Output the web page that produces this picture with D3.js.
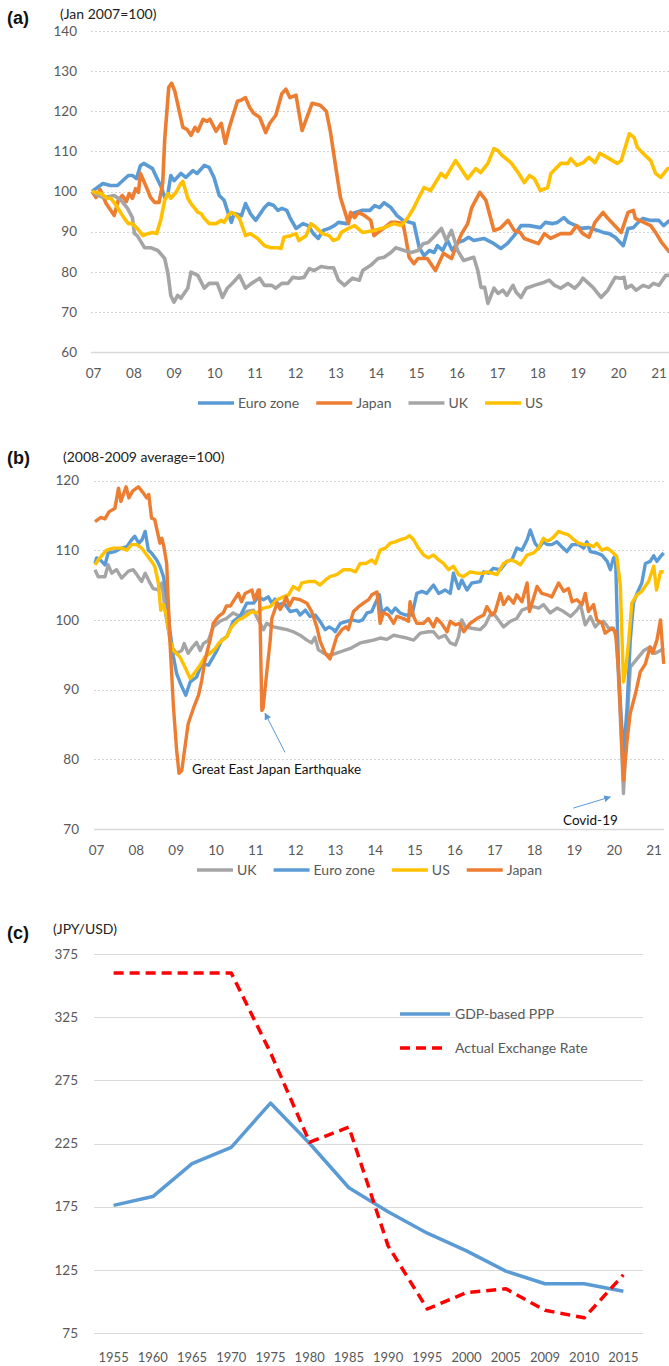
<!DOCTYPE html>
<html>
<head>
<meta charset="utf-8">
<script src="https://cdn.jsdelivr.net/npm/d3@7/dist/d3.min.js"></script>
<style>
body{margin:0;background:#fff;}
svg{display:block;font-family:Lato,"Open Sans",sans-serif;}
</style>
</head>
<body>
<svg width="669" height="1366"></svg>
<script>
// ---------- data ----------
var yearLabels = ["07","08","09","10","11","12","13","14","15","16","17","18","19","20","21"];

// panel (a) : [decimal year, index Jan 2007 = 100]
var euroA = [[2007.0,100],[2007.27,102],[2007.45,101.5],[2007.63,101.5],[2007.9,104],[2008.0,104],[2008.1,103.2],[2008.2,106.5],[2008.28,107],[2008.5,105.7],[2008.6,103.5],[2008.72,101],[2008.8,98.5],[2008.88,99.5],[2008.95,104],[2009.03,102.7],[2009.2,104.5],[2009.32,103.5],[2009.5,105.2],[2009.6,104.5],[2009.78,106.5],[2009.9,106],[2010.02,103.5],[2010.15,99],[2010.27,97.8],[2010.35,95.3],[2010.45,92.3],[2010.52,94.5],[2010.7,94],[2010.8,97],[2010.92,94.5],[2011.05,92.8],[2011.27,96],[2011.37,97],[2011.5,96.5],[2011.6,95.3],[2011.7,95.8],[2011.82,95.3],[2011.9,93.5],[2012.05,90.8],[2012.22,92],[2012.35,91.5],[2012.48,89.5],[2012.6,88.3],[2012.72,90.3],[2012.87,90.8],[2013.0,91.5],[2013.1,92.3],[2013.3,92],[2013.45,94.5],[2013.68,95.3],[2013.88,95.3],[2014.0,96.5],[2014.12,96],[2014.23,97.2],[2014.4,96],[2014.55,94],[2014.7,92.8],[2014.97,92],[2015.1,86],[2015.22,84],[2015.35,85.3],[2015.47,84.8],[2015.55,86.5],[2015.68,85.3],[2015.8,87.8],[2015.92,85.3],[2016.05,87.3],[2016.2,87.8],[2016.32,88.6],[2016.45,87.8],[2016.7,88.3],[2016.95,87],[2017.12,85.8],[2017.28,87],[2017.45,89],[2017.62,91.5],[2017.82,91.5],[2018.1,91],[2018.22,92.3],[2018.4,92],[2018.52,92.3],[2018.68,93.5],[2018.8,92.3],[2018.98,91.5],[2019.1,90.8],[2019.3,91],[2019.52,90.3],[2019.65,89.8],[2019.8,89.5],[2019.95,88.6],[2020.15,86.5],[2020.27,90.8],[2020.4,91],[2020.52,92.3],[2020.64,93.3],[2020.83,92.8],[2021.03,92.8],[2021.15,91.5],[2021.3,92.8]];
var japanA = [[2007.0,100],[2007.1,98.5],[2007.2,100.5],[2007.35,97],[2007.55,94],[2007.65,97.8],[2007.75,99],[2007.85,97.5],[2007.92,99.5],[2008.0,98.3],[2008.08,100.7],[2008.15,99.8],[2008.2,104.5],[2008.35,101],[2008.45,98.5],[2008.55,97.3],[2008.66,97.3],[2008.75,102],[2008.8,113],[2008.9,126],[2008.97,127],[2009.05,125],[2009.25,116],[2009.35,115.5],[2009.45,114],[2009.55,116],[2009.62,115],[2009.75,118],[2009.85,117.5],[2009.92,118],[2010.07,115],[2010.2,117],[2010.3,112],[2010.4,116],[2010.6,122.5],[2010.7,122.8],[2010.8,123.4],[2010.9,121],[2011.0,119.5],[2011.15,118.5],[2011.3,114.7],[2011.4,117],[2011.55,119],[2011.7,124.4],[2011.8,125.5],[2011.9,123.4],[2012.05,124],[2012.2,115.2],[2012.45,122],[2012.65,121.5],[2012.8,120],[2012.9,115],[2013.05,105],[2013.15,98.5],[2013.25,95.3],[2013.35,92],[2013.4,94.8],[2013.5,93.5],[2013.6,94.8],[2013.75,94],[2013.9,92.8],[2013.98,89],[2014.15,90.3],[2014.4,92.3],[2014.55,92.3],[2014.7,92],[2014.77,88.3],[2014.85,83.6],[2014.97,82],[2015.07,83.3],[2015.3,83.3],[2015.5,80.3],[2015.7,84.6],[2015.9,83.3],[2016.0,86],[2016.15,89.5],[2016.3,92],[2016.4,96],[2016.6,99.8],[2016.75,97.8],[2016.95,90.3],[2017.1,90.8],[2017.3,92.8],[2017.45,90.3],[2017.6,89.8],[2017.7,88.3],[2018.05,87],[2018.2,89.5],[2018.35,88.3],[2018.6,89.5],[2018.85,89.5],[2019.0,91.5],[2019.15,89.5],[2019.3,88.6],[2019.45,92.3],[2019.65,94.8],[2019.75,93.5],[2020.1,89.8],[2020.27,94.8],[2020.4,95.3],[2020.45,93.3],[2020.83,91.5],[2020.95,89.8],[2021.1,87.3],[2021.3,84.8]];
var ukA = [[2007.0,100],[2007.15,99],[2007.3,98.5],[2007.55,99],[2007.72,97.8],[2007.88,95.8],[2008.0,93.5],[2008.05,89.5],[2008.12,89],[2008.3,86],[2008.45,86],[2008.63,85.3],[2008.8,83.3],[2008.88,79.6],[2008.95,74.1],[2009.03,72.4],[2009.12,74.1],[2009.2,73.4],[2009.37,75.9],[2009.45,79.9],[2009.62,79.1],[2009.78,75.9],[2009.9,77.1],[2010.1,77.1],[2010.23,73.6],[2010.35,75.9],[2010.5,77.4],[2010.65,79.1],[2010.8,75.9],[2010.95,77.1],[2011.15,78.4],[2011.27,76.6],[2011.45,76.6],[2011.55,75.9],[2011.7,77.1],[2011.85,77.1],[2011.97,78.6],[2012.12,78.4],[2012.25,78.6],[2012.38,80.8],[2012.5,80.3],[2012.67,81.3],[2012.85,81],[2012.98,81],[2013.1,77.9],[2013.25,76.6],[2013.45,78.4],[2013.62,77.9],[2013.7,80.3],[2013.9,81.6],[2014.08,83.3],[2014.23,83.6],[2014.4,84.8],[2014.52,86],[2014.73,85.3],[2014.9,84.8],[2015.07,85.3],[2015.2,87],[2015.32,87.3],[2015.45,88.6],[2015.65,90.8],[2015.77,87.8],[2015.9,90.3],[2016.05,85.3],[2016.2,82.8],[2016.45,83.6],[2016.55,80.3],[2016.63,76.1],[2016.72,76.1],[2016.8,72.1],[2016.95,75.9],[2017.05,74.6],[2017.17,75.4],[2017.27,74.1],[2017.42,76.6],[2017.5,74.9],[2017.62,73.6],[2017.75,75.9],[2017.95,76.6],[2018.2,77.4],[2018.32,77.9],[2018.45,76.6],[2018.6,75.9],[2018.78,77.1],[2018.95,75.9],[2019.07,77.1],[2019.15,78.4],[2019.4,76.1],[2019.6,73.6],[2019.77,75.4],[2019.95,78.6],[2020.08,78.4],[2020.17,78.6],[2020.22,75.9],[2020.35,76.6],[2020.47,75.4],[2020.64,76.6],[2020.78,76.1],[2020.9,77.1],[2021.03,76.6],[2021.2,79.1],[2021.3,79.1]];
var usA = [[2007.0,100],[2007.22,99.5],[2007.38,98.3],[2007.47,98.3],[2007.6,96.5],[2007.8,93.3],[2007.9,92],[2008.0,92],[2008.12,90.8],[2008.26,89],[2008.38,89.5],[2008.5,89.8],[2008.6,89.5],[2008.7,92.8],[2008.8,97.8],[2008.88,99.5],[2008.95,98.3],[2009.08,99.8],[2009.2,102],[2009.25,102.5],[2009.37,98.3],[2009.45,97],[2009.53,96],[2009.62,94.8],[2009.7,94.5],[2009.78,93.3],[2009.9,92],[2010.07,92],[2010.2,92.8],[2010.27,92.3],[2010.37,94],[2010.45,94.8],[2010.52,94.5],[2010.65,93.3],[2010.8,89],[2010.92,89.5],[2011.1,88.3],[2011.27,86.5],[2011.43,86],[2011.6,86],[2011.68,85.8],[2011.75,88.6],[2011.92,89],[2012.05,89.5],[2012.12,87.8],[2012.3,89],[2012.42,92],[2012.55,91],[2012.7,89.5],[2012.87,89],[2012.97,87.8],[2013.1,88.3],[2013.17,89.8],[2013.35,90.8],[2013.5,91.5],[2013.7,89.8],[2013.98,90.3],[2014.23,91],[2014.47,92],[2014.65,91.5],[2014.82,93.5],[2014.97,96],[2015.08,98.3],[2015.22,101],[2015.38,100.2],[2015.64,104.5],[2015.75,103.5],[2016.0,107.7],[2016.3,103.2],[2016.5,105.7],[2016.62,104.7],[2016.8,107],[2016.95,110.7],[2017.05,110.2],[2017.15,109],[2017.37,107.2],[2017.55,104.7],[2017.7,102.2],[2017.83,104],[2017.95,103.2],[2018.1,100.2],[2018.28,101],[2018.36,104.5],[2018.6,107],[2018.78,107],[2018.85,108.2],[2019.0,106.5],[2019.16,107.2],[2019.3,108.5],[2019.45,107.2],[2019.57,109.5],[2019.75,108.5],[2020.0,107],[2020.1,107.7],[2020.3,114.4],[2020.42,113.4],[2020.5,111],[2020.64,109.5],[2020.83,107.7],[2020.95,104.5],[2021.08,103.5],[2021.25,105.7],[2021.3,105.7]];

// panel (b) : [decimal year, index 2008-2009 average = 100]
var ukB = [[2007.0,107.2],[2007.08,106.2],[2007.25,106.2],[2007.33,107.9],[2007.42,106.7],[2007.54,107.2],[2007.67,106],[2007.84,107],[2007.96,107.2],[2008.05,106.5],[2008.17,105.5],[2008.26,106.7],[2008.38,105.3],[2008.46,104.5],[2008.59,104.3],[2008.68,105.3],[2008.76,101.4],[2008.84,98.6],[2008.93,96.1],[2009.05,95.2],[2009.18,95.6],[2009.24,96.6],[2009.34,95.2],[2009.45,96.1],[2009.55,96.8],[2009.64,95.6],[2009.72,96.6],[2009.85,97.1],[2009.97,99],[2010.14,99.8],[2010.3,100.2],[2010.47,101],[2010.64,100.5],[2010.81,101.2],[2010.98,101.4],[2011.1,100],[2011.23,98.6],[2011.31,99.5],[2011.48,99],[2011.65,98.8],[2011.82,98.6],[2011.98,98.3],[2012.15,97.8],[2012.32,97.1],[2012.44,96.7],[2012.52,97.5],[2012.61,95.7],[2012.75,95.2],[2012.9,94.9],[2013.05,95.2],[2013.2,95.5],[2013.41,95.9],[2013.66,96.7],[2013.83,96.9],[2013.99,97.1],[2014.16,97.4],[2014.33,97.2],[2014.5,97.8],[2014.66,97.6],[2014.83,97.4],[2015.0,97.1],[2015.17,98.1],[2015.37,98.3],[2015.5,98.3],[2015.63,97.4],[2015.79,97.8],[2015.92,96.7],[2016.05,96.4],[2016.13,97.6],[2016.21,100],[2016.3,99],[2016.46,98.8],[2016.67,98.6],[2016.8,99.3],[2016.92,100.7],[2017.0,101],[2017.13,100],[2017.26,99],[2017.43,99.8],[2017.59,100.2],[2017.72,101.4],[2017.85,101.7],[2018.01,101.9],[2018.14,101.7],[2018.26,102.2],[2018.43,101],[2018.6,101.7],[2018.77,101.2],[2018.94,100.5],[2019.1,101.4],[2019.19,102.2],[2019.31,99.3],[2019.44,100.5],[2019.56,99],[2019.66,99.6],[2019.77,99.8],[2019.9,98.8],[2020.02,98.8],[2020.1,97.1],[2020.18,87.5],[2020.27,75.1],[2020.36,85.1],[2020.44,93.2],[2020.61,94.4],[2020.78,95.6],[2020.94,96.1],[2021.07,95.2],[2021.2,95.6],[2021.28,96]];
var euroB = [[2007.0,108.1],[2007.04,108.9],[2007.15,108.5],[2007.25,107.9],[2007.33,109.6],[2007.5,109.8],[2007.67,110.3],[2007.8,110.5],[2007.92,111.5],[2008.0,112],[2008.1,111],[2008.18,111.5],[2008.26,112.7],[2008.34,110],[2008.42,109.6],[2008.55,108.6],[2008.63,107.7],[2008.72,106.2],[2008.8,103.3],[2008.88,98.6],[2008.97,94.7],[2009.05,92.3],[2009.18,90.4],[2009.28,89.2],[2009.39,91.1],[2009.55,91.8],[2009.68,93.7],[2009.85,93.5],[2009.97,94.7],[2010.06,95.6],[2010.18,97.1],[2010.31,97.6],[2010.47,99.8],[2010.64,100.5],[2010.81,102.4],[2010.98,102.4],[2011.1,103.3],[2011.23,102.9],[2011.35,103.3],[2011.44,102.4],[2011.52,103],[2011.6,102.2],[2011.75,102.4],[2011.9,101.2],[2012.07,101.4],[2012.15,100.7],[2012.28,101.4],[2012.4,100.5],[2012.53,100.7],[2012.65,99.8],[2012.78,98.6],[2012.88,99],[2012.99,98.6],[2013.03,98.3],[2013.16,99.5],[2013.32,99.8],[2013.45,100],[2013.62,99.8],[2013.72,100],[2013.83,101],[2013.95,101.2],[2014.04,102.4],[2014.14,103.6],[2014.2,101],[2014.33,101.7],[2014.45,101],[2014.54,101.7],[2014.66,101],[2014.79,100.7],[2014.96,100.7],[2015.08,103.8],[2015.21,104.1],[2015.33,103.8],[2015.5,105],[2015.63,103.8],[2015.79,104.3],[2015.92,103.8],[2016.0,106.7],[2016.13,104.5],[2016.21,105.7],[2016.34,104.3],[2016.46,105.3],[2016.67,105.5],[2016.76,106.9],[2016.88,106.7],[2017.0,107.4],[2017.18,107.2],[2017.34,108.4],[2017.47,108.6],[2017.59,110.3],[2017.72,110],[2017.85,111.5],[2017.93,112.9],[2018.05,111],[2018.14,110.3],[2018.26,111.2],[2018.36,110.8],[2018.47,110.8],[2018.6,111.2],[2018.72,110.5],[2018.85,109.8],[2018.98,110.8],[2019.14,110.8],[2019.27,110.3],[2019.35,111.2],[2019.44,109.8],[2019.6,109.6],[2019.73,109.3],[2019.86,108.4],[2019.94,107.2],[2020.02,108.9],[2020.07,109.1],[2020.15,92.3],[2020.27,80.5],[2020.36,87.5],[2020.44,97],[2020.52,102.4],[2020.61,103.8],[2020.73,105.3],[2020.82,108.1],[2020.94,108.4],[2021.03,109.2],[2021.11,108.4],[2021.2,109.1],[2021.28,109.6]];
var usB = [[2007.0,107.9],[2007.08,108.6],[2007.29,110],[2007.46,110.3],[2007.67,110.3],[2007.8,110],[2007.92,110.8],[2008.05,110.8],[2008.17,110.3],[2008.3,109.3],[2008.42,108.4],[2008.5,107.7],[2008.59,105.3],[2008.65,101.4],[2008.72,102.2],[2008.8,100.5],[2008.88,97.1],[2008.97,95.6],[2009.13,94.7],[2009.26,93.2],[2009.39,91.6],[2009.51,92.5],[2009.64,93.5],[2009.76,94.7],[2009.89,95.2],[2010.02,95.9],[2010.1,96.6],[2010.2,97.1],[2010.31,97.6],[2010.43,99],[2010.6,100],[2010.77,100.5],[2010.94,101.2],[2011.06,101],[2011.23,101.7],[2011.4,101.9],[2011.57,102.9],[2011.73,103.3],[2011.86,103.6],[2011.98,104.8],[2012.11,104.3],[2012.19,105.3],[2012.36,105.5],[2012.53,105.5],[2012.65,105],[2012.78,105.7],[2012.9,106.2],[2013.07,106.5],[2013.24,107.2],[2013.41,107.2],[2013.54,106.9],[2013.66,108.1],[2013.8,108.1],[2013.95,108.6],[2014.04,108.1],[2014.16,110],[2014.29,110.3],[2014.41,111],[2014.54,111.2],[2014.66,111.5],[2014.79,111.7],[2014.9,112.1],[2015.0,111.5],[2015.12,110.3],[2015.25,109.3],[2015.37,108.9],[2015.5,109.3],[2015.63,108.6],[2015.75,108.1],[2015.88,107.2],[2016.0,107.7],[2016.13,106.5],[2016.25,106.2],[2016.42,106.9],[2016.59,106.7],[2016.76,106.7],[2016.85,106.9],[2016.97,106.7],[2017.09,106.5],[2017.26,108.1],[2017.43,108.6],[2017.55,108.4],[2017.68,107.9],[2017.85,109.3],[2018.01,109.6],[2018.14,110.3],[2018.26,111.7],[2018.35,111.3],[2018.43,111.5],[2018.52,111.9],[2018.64,112.7],[2018.77,112.4],[2018.89,112.2],[2019.02,111.5],[2019.14,111],[2019.27,110.8],[2019.4,110.8],[2019.52,110.5],[2019.6,111],[2019.73,110],[2019.86,110.3],[2019.98,109.8],[2020.1,109.1],[2020.19,105],[2020.27,91.1],[2020.33,93],[2020.4,97],[2020.48,102.4],[2020.61,103.6],[2020.73,104.1],[2020.9,105.5],[2021.03,107.7],[2021.1,104.3],[2021.2,106.9],[2021.28,106.9]];
var japanB = [[2007.0,114.1],[2007.15,114.7],[2007.25,114.5],[2007.35,115.5],[2007.5,116],[2007.59,118.9],[2007.65,117],[2007.78,119.1],[2007.85,117.5],[2007.95,118.5],[2008.09,119.1],[2008.2,118.3],[2008.3,117.5],[2008.35,118],[2008.42,114.6],[2008.5,114.4],[2008.63,111],[2008.68,111.7],[2008.73,110.5],[2008.8,108.1],[2008.88,97.1],[2008.97,87.5],[2009.05,81.3],[2009.11,78],[2009.18,78.4],[2009.26,81.8],[2009.34,85.1],[2009.47,87.3],[2009.6,89.2],[2009.68,91.3],[2009.76,94.2],[2009.89,97.1],[2009.97,99.5],[2010.1,100.5],[2010.22,101],[2010.3,102],[2010.4,102],[2010.6,103.8],[2010.68,102.6],[2010.77,103.8],[2010.94,104.3],[2011.0,102.9],[2011.1,104.3],[2011.13,104.3],[2011.19,87],[2011.22,87.3],[2011.31,92.3],[2011.4,97.1],[2011.44,100.2],[2011.57,102.4],[2011.65,101.5],[2011.72,102.2],[2011.8,103.3],[2011.88,102],[2011.98,103.1],[2012.15,102.9],[2012.32,102.4],[2012.44,101.2],[2012.57,99],[2012.65,97],[2012.78,95.2],[2012.9,94.4],[2013.07,97.6],[2013.2,98.6],[2013.3,99],[2013.36,98.6],[2013.49,101.2],[2013.62,101.9],[2013.74,102.4],[2013.87,102.9],[2013.95,103.6],[2014.08,104],[2014.16,99.5],[2014.24,101],[2014.37,100.7],[2014.5,99.5],[2014.58,100.5],[2014.75,100.2],[2014.87,99.8],[2014.91,102.6],[2015.0,100.5],[2015.08,99.5],[2015.25,99.5],[2015.37,100.2],[2015.5,99],[2015.58,100.2],[2015.7,99.5],[2015.84,98.3],[2015.92,99.8],[2016.05,99.3],[2016.15,99.5],[2016.26,98.3],[2016.42,99.5],[2016.59,100.2],[2016.76,100.7],[2016.84,101.9],[2016.97,100.7],[2017.05,101.2],[2017.18,103.8],[2017.26,102.2],[2017.38,103.3],[2017.51,102.4],[2017.59,103.6],[2017.72,102.6],[2017.85,105.3],[2017.91,101.2],[2018.1,104.8],[2018.22,103.8],[2018.35,103.6],[2018.47,103.3],[2018.64,105.3],[2018.77,104.1],[2018.89,104.5],[2018.98,102.6],[2019.1,102.9],[2019.23,102.2],[2019.31,103.8],[2019.39,101.2],[2019.52,102.2],[2019.6,100],[2019.73,99.5],[2019.81,98.1],[2019.98,98.8],[2020.07,98.3],[2020.15,92.3],[2020.27,77],[2020.36,82.7],[2020.44,86.6],[2020.57,89.4],[2020.69,92.5],[2020.82,93.7],[2020.94,96.1],[2021.0,95.2],[2021.11,97.1],[2021.2,100],[2021.28,93.7]];

// panel (c) : JPY per USD
var cYears = ["1955","1960","1965","1970","1975","1980","1985","1990","1995","2000","2005","2009","2010","2015"];
var pppValues = [176,183,209,222,257,225,190,171,154,140,124,114,114,108];
var actualRates = [360,360,360,360,297,226,238,144,94,107,110,93,87,121];

var svg = d3.select("svg");
var tickColor = "#595959";

// ---------- shared helpers ----------
function drawTimePanel(p){
	var g = svg.append("g").attr("id", p.id);

	var xScale = d3.scaleLinear()
					.domain([2007, 2021.3])
					.range([p.left, p.right]);
	var yScale = d3.scaleLinear()
					.domain(p.yDomain)
					.range([p.bottom, p.top]);

	// dotted gridlines, the lowest one is a solid base line
	g.append("g")
		.selectAll("line")
		.data(p.yTicks)
		.enter().append("line")
		.attr("x1", p.gridLeft)
		.attr("x2", p.gridRight)
		.attr("y1", function(d){ return Math.round(yScale(d)) + 0.5; })
		.attr("y2", function(d){ return Math.round(yScale(d)) + 0.5; })
		.attr("stroke", function(d, i){ return i == 0 ? "#d9d9d9" : "#d4d4d4"; })
		.attr("stroke-width", function(d, i){ return i == 0 ? 1.3 : 1; })
		.attr("stroke-dasharray", function(d, i){ return i == 0 ? null : "2,2"; });

	// y labels
	var yAxis = g.append("g")
				.attr("transform", "translate(" + p.yLabelRight + ",0)")
				.call(d3.axisLeft(yScale).tickValues(p.yTicks).tickSize(0).tickPadding(0));
	yAxis.select(".domain").remove();
	yAxis.selectAll("text")
		.attr("fill", tickColor)
		.style("font-size", "13.5px")
		.style("font-family", "Lato, sans-serif");

	// x labels
	var xAxis = g.append("g")
				.attr("transform", "translate(0," + p.xLabelY + ")")
				.call(d3.axisBottom(xScale)
						.tickValues(yearLabels.map(function(d, i){ return 2007 + i; }))
						.tickFormat(function(d, i){ return yearLabels[i]; })
						.tickSize(0).tickPadding(0));
	xAxis.select(".domain").remove();
	xAxis.selectAll("text")
		.attr("fill", tickColor)
		.attr("dy", "0.35em")
		.attr("dx", p.xLabelShift)
		.style("font-size", "13.5px")
		.style("font-family", "Lato, sans-serif");

	// series lines in drawing order
	var lineGenerator = d3.line()
						.x(function(d){ return xScale(d[0]); })
						.y(function(d){ return yScale(d[1]); });
	g.append("g")
		.selectAll("path")
		.data(p.series)
		.enter().append("path")
		.attr("d", function(d){ return lineGenerator(d.values); })
		.attr("fill", "none")
		.attr("stroke", function(d){ return d.color; })
		.attr("stroke-width", p.lineWidth)
		.attr("stroke-linejoin", "round");

	drawLegend(g, p.legend, p.legendX, p.legendY);
	return {x: xScale, y: yScale, g: g};
}

function drawLegend(g, items, x0, y0){
	var lg = g.append("g").attr("class", "legend");
	var x = x0;
	items.forEach(function(d){
		lg.append("line")
			.attr("x1", x).attr("x2", x + 36)
			.attr("y1", y0).attr("y2", y0)
			.attr("stroke", d.color)
			.attr("stroke-width", 3.5)
			.attr("stroke-dasharray", d.dash || null);
		var t = lg.append("text")
				.attr("x", x + 40)
				.attr("y", y0)
				.attr("dy", "0.35em")
				.attr("fill", tickColor)
				.style("font-size", "14px")
				.text(d.name);
		x = x + 40 + t.node().getComputedTextLength() + 17;
	});
}

function panelTitle(letter, sub, x, y, subX, subY){
	svg.append("text")
		.attr("x", x).attr("y", y)
		.style("font-family", "'Liberation Sans', Arial, sans-serif")
		.style("font-weight", "bold")
		.style("font-size", "18px")
		.attr("fill", "#111")
		.text(letter);
	svg.append("text")
		.attr("x", subX).attr("y", subY)
		.style("font-size", "14px")
		.attr("fill", "#222")
		.text(sub);
}

// ---------- panel (a) ----------
panelTitle("(a)", "(Jan 2007=100)", 7, 24, 60, 19);
drawTimePanel({
	id: "panelA",
	left: 92, right: 669.7, top: 31, bottom: 352,
	gridLeft: 91, gridRight: 669,
	yDomain: [60, 140], yTicks: [60, 70, 80, 90, 100, 110, 120, 130, 140],
	yLabelRight: 77, xLabelY: 373, xLabelShift: 1,
	lineWidth: 3.6,
	series: [
		{name: "Euro zone", color: "#5B9BD5", values: euroA},
		{name: "Japan", color: "#ED7D31", values: japanA},
		{name: "UK", color: "#A5A5A5", values: ukA},
		{name: "US", color: "#FFC000", values: usA}
	],
	legend: [
		{name: "Euro zone", color: "#5B9BD5"},
		{name: "Japan", color: "#ED7D31"},
		{name: "UK", color: "#A5A5A5"},
		{name: "US", color: "#FFC000"}
	],
	legendX: 198, legendY: 403
});

// ---------- panel (b) ----------
panelTitle("(b)", "(2008-2009 average=100)", 7, 464, 63, 462);
var pb = drawTimePanel({
	id: "panelB",
	left: 95, right: 664.5, top: 480.5, bottom: 829,
	gridLeft: 94, gridRight: 664,
	yDomain: [70, 120], yTicks: [70, 80, 90, 100, 110, 120],
	yLabelRight: 79, xLabelY: 850, xLabelShift: 1,
	lineWidth: 3.4,
	series: [
		{name: "UK", color: "#A5A5A5", values: ukB},
		{name: "Euro zone", color: "#5B9BD5", values: euroB},
		{name: "US", color: "#FFC000", values: usB},
		{name: "Japan", color: "#ED7D31", values: japanB}
	],
	legend: [
		{name: "UK", color: "#A5A5A5"},
		{name: "Euro zone", color: "#5B9BD5"},
		{name: "US", color: "#FFC000"},
		{name: "Japan", color: "#ED7D31"}
	],
	legendX: 197, legendY: 870
});

// annotations with arrows
svg.append("defs").append("marker")
	.attr("id", "arrowHead")
	.attr("viewBox", "0 0 10 10")
	.attr("refX", 9).attr("refY", 5)
	.attr("markerWidth", 7).attr("markerHeight", 7)
	.attr("orient", "auto")
	.append("path")
	.attr("d", "M0,0 L10,5 L0,10 z")
	.attr("fill", "#5B9BD5");

pb.g.append("line")
	.attr("x1", pb.x(2011.77)).attr("y1", pb.y(81.0))
	.attr("x2", pb.x(2011.27)).attr("y2", pb.y(86.6))
	.attr("stroke", "#5B9BD5").attr("stroke-width", 1)
	.attr("marker-end", "url(#arrowHead)");
pb.g.append("text")
	.attr("x", 192).attr("y", 774)
	.attr("fill", "#111")
	.style("font-size", "13.5px")
	.text("Great East Japan Earthquake");

pb.g.append("line")
	.attr("x1", pb.x(2019.01)).attr("y1", pb.y(73.0))
	.attr("x2", pb.x(2019.94)).attr("y2", pb.y(74.6))
	.attr("stroke", "#5B9BD5").attr("stroke-width", 1)
	.attr("marker-end", "url(#arrowHead)");
pb.g.append("text")
	.attr("x", 563).attr("y", 825)
	.attr("fill", "#111")
	.style("font-size", "13.5px")
	.text("Covid-19");

// ---------- panel (c) ----------
panelTitle("(c)", "(JPY/USD)", 7, 939, 53, 934);

var gc = svg.append("g").attr("id", "panelC");
var xBand = d3.scaleBand()
				.domain(cYears)
				.range([94, 643]);
var yC = d3.scaleLinear()
				.domain([75, 375])
				.range([1333, 954]);
var cTicks = [75, 125, 175, 225, 275, 325, 375];

gc.append("g")
	.selectAll("line")
	.data(cTicks)
	.enter().append("line")
	.attr("x1", 94).attr("x2", 643)
	.attr("y1", function(d){ return Math.round(yC(d)) + 0.5; })
	.attr("y2", function(d){ return Math.round(yC(d)) + 0.5; })
	.attr("stroke", "#d9d9d9")
	.attr("stroke-width", 1.2);

var cyAxis = gc.append("g")
			.attr("transform", "translate(78,0)")
			.call(d3.axisLeft(yC).tickValues(cTicks).tickSize(0).tickPadding(0));
cyAxis.select(".domain").remove();
cyAxis.selectAll("text")
	.attr("fill", tickColor)
	.style("font-size", "13.5px")
	.style("font-family", "Lato, sans-serif");

var cxAxis = gc.append("g")
			.attr("transform", "translate(0,1357)")
			.call(d3.axisBottom(xBand).tickSize(0).tickPadding(0));
cxAxis.select(".domain").remove();
cxAxis.selectAll("text")
	.attr("fill", tickColor)
	.attr("dy", "0.35em")
	.style("font-size", "13px")
	.style("font-family", "Lato, sans-serif");

function cx(i){
	return xBand(cYears[i]) + xBand.bandwidth() / 2;
}
var cLine = d3.line()
			.x(function(d, i){ return cx(i); })
			.y(function(d){ return yC(d); });

gc.append("path")
	.attr("d", cLine(pppValues))
	.attr("fill", "none")
	.attr("stroke", "#5B9BD5")
	.attr("stroke-width", 3.5)
	.attr("stroke-linejoin", "round");
gc.append("path")
	.attr("d", cLine(actualRates))
	.attr("fill", "none")
	.attr("stroke", "#FF0000")
	.attr("stroke-width", 3.5)
	.attr("stroke-dasharray", "10,6")
	.attr("stroke-linejoin", "round");

// legend for (c) stacked vertically
var cLegend = [
	{name: "GDP-based PPP", color: "#5B9BD5", dash: null, y: 1014},
	{name: "Actual Exchange Rate", color: "#FF0000", dash: "10,6", y: 1048}
];
cLegend.forEach(function(d){
	gc.append("line")
		.attr("x1", 400).attr("x2", d.dash ? 446 : 450)
		.attr("y1", d.y).attr("y2", d.y)
		.attr("stroke", d.color)
		.attr("stroke-width", 3.5)
		.attr("stroke-dasharray", d.dash);
	gc.append("text")
		.attr("x", 455).attr("y", d.y)
		.attr("dy", "0.35em")
		.attr("fill", tickColor)
		.style("font-size", "14px")
		.text(d.name);
});
</script>
</body>
</html>
